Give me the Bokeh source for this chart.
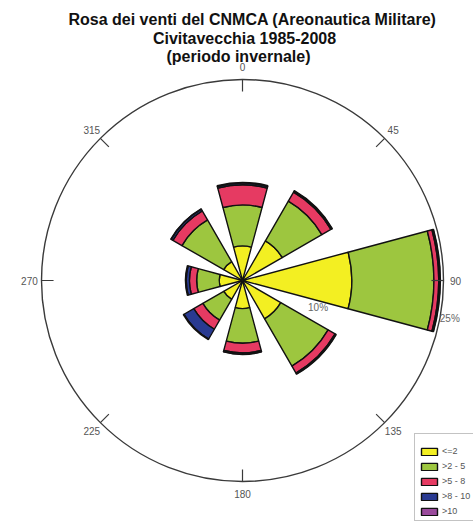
import numpy as np
from bokeh.plotting import figure
from bokeh.models import ColumnDataSource, Label, Legend, LegendItem, Range1d
from bokeh.core.properties import value
from bokeh.embed import file_html
from bokeh.resources import INLINE

# Wind directions (degrees from north, clockwise) and frequency (%) per speed class
directions = [0, 45, 90, 135, 180, 225, 270, 315]
speed_classes = ["<=2", ">2 - 5", ">5 - 8", ">8 - 10", ">10"]
freq_le2 = [4.3, 5.7, 13.6, 5.5, 3.5, 2.7, 2.9, 2.7]
freq_2_5 = [5.1, 5.7, 10.2, 6.8, 4.3, 3.0, 2.8, 6.0]
freq_5_8 = [2.5, 1.3, 0.6, 1.0, 1.2, 1.3, 0.9, 1.3]
freq_8_10 = [0.2, 0.15, 0.15, 0.1, 0.15, 1.4, 0.4, 0.25]
freq_gt10 = [0.1, 0.05, 0.05, 0.05, 0.05, 0.1, 0.1, 0.05]
class_colors = ["#f3ef22", "#9dc63f", "#e63a62", "#293a91", "#9a4a9c"]

# Compass ticks and percentage rings
tick_angles = [0, 45, 90, 135, 180, 225, 270, 315]
tick_labels = ["0", "45", "90", "135", "180", "225", "270", "315"]
ring_values = [10, 25]
ring_labels = ["10%", "25%"]

SECTOR_WIDTH = 30.0
R_MAX = 25.0
W, H = 473, 529
CX, CY = 242, 280          # pixel position of the rose centre
SCALE = 201.0 / R_MAX      # pixels per percent

p = figure(width=W, height=H, output_backend="svg", toolbar_location=None,
           x_axis_type=None, y_axis_type=None, min_border=0,
           x_range=Range1d(-CX / SCALE, (W - CX) / SCALE),
           y_range=Range1d(-(H - CY) / SCALE, CY / SCALE))
p.grid.visible = False
p.outline_line_color = None
p.background_fill_color = "white"

# Outer circle (25 %)
p.circle(x=[0], y=[0], radius=R_MAX, fill_color=None, line_color="#3a3a3a", line_width=1.4)

# Stacked sectors
dirs = np.array(directions, dtype=float)
start = np.deg2rad(90.0 - dirs - SECTOR_WIDTH / 2)
end = np.deg2rad(90.0 - dirs + SECTOR_WIDTH / 2)
classes = [freq_le2, freq_2_5, freq_5_8, freq_8_10, freq_gt10]
cum = np.zeros(len(directions))
renderers = []
for vals, color in zip(classes, class_colors):
    v = np.array(vals, dtype=float)
    src = ColumnDataSource(dict(inner=cum.copy(), outer=cum + v, start=start, end=end,
                                x=np.zeros_like(v), y=np.zeros_like(v)))
    r = p.annular_wedge(x="x", y="y", inner_radius="inner", outer_radius="outer",
                        start_angle="start", end_angle="end", source=src,
                        fill_color=color, line_color="#111111", line_width=1.4)
    renderers.append(r)
    cum = cum + v

# Compass ticks (inward) and labels
ta = np.deg2rad(90.0 - np.array(tick_angles, dtype=float))
tick_len = 1.5
p.segment(x0=R_MAX * np.cos(ta), y0=R_MAX * np.sin(ta),
          x1=(R_MAX - tick_len) * np.cos(ta), y1=(R_MAX - tick_len) * np.sin(ta),
          line_color="#3a3a3a", line_width=1.2)
lab_r = 26.5
p.text(x=lab_r * np.cos(ta), y=lab_r * np.sin(ta), text=tick_labels,
       text_align="center", text_baseline="middle", text_font=value("Liberation Sans"),
       text_font_size="10px", text_color="#555555")

# Percentage labels
rb = np.deg2rad(90.0 - np.array([110.0, 101.0]))
rv = np.array(ring_values, dtype=float)
p.text(x=rv * np.cos(rb), y=rv * np.sin(rb), text=ring_labels,
       text_align=["center", "left"], text_baseline="middle",
       text_font=value("Liberation Sans"), text_font_size="10px", text_color="#666666")

# Title lines
title_lines = ["Rosa dei venti del CNMCA (Areonautica Militare)",
               "Civitavecchia 1985-2008",
               "(periodo invernale)"]
title_x = [252, 244, 238]
title_y = [19, 38, 56]
for t, tx, ty in zip(title_lines, title_x, title_y):
    p.add_layout(Label(x=tx, y=H - ty, x_units="screen", y_units="screen", text=t,
                       text_align="center", text_baseline="middle",
                       text_font="Liberation Sans", text_font_style="bold",
                       text_font_size="16px", text_color="#111111"))

legend = Legend(items=[LegendItem(label=lbl, renderers=[r])
                       for lbl, r in zip(speed_classes, renderers)],
                location=(414, 8), glyph_width=20, glyph_height=9, label_height=9,
                spacing=5, padding=4, margin=0, label_standoff=3,
                title=" ", title_text_font_size="5px", title_standoff=2,
                label_text_font_size="9px", label_text_font="Liberation Sans",
                label_text_color="#555555", border_line_color="#888888",
                border_line_width=1, background_fill_color="white",
                background_fill_alpha=1.0)
p.add_layout(legend)

open("out.html", "w").write(file_html(p, INLINE))
